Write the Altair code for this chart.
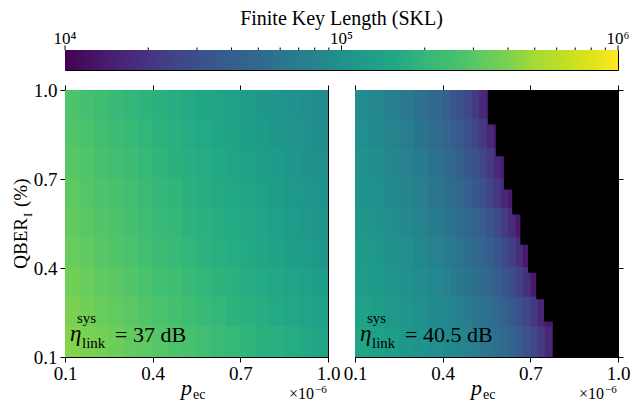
import altair as alt
import pandas as pd

FONT = "Liberation Serif"

# ---------------- data ----------------
# cell edges (pec in units of 1e-6, QBER_I in %)
qber_edges = [1.0, 0.9, 0.8, 0.7, 0.6, 0.5, 0.4, 0.3, 0.2, 0.1]
pec_edges_37 = [0.1, 0.15, 0.2, 0.25, 0.3, 0.35, 0.4, 0.45, 0.5, 0.55,
                0.6, 0.65, 0.7, 0.75, 0.8, 0.85, 0.9, 0.95, 1.0]
pec_edges_405 = [0.1, 0.15, 0.2, 0.25, 0.3, 0.35, 0.4, 0.425, 0.45, 0.475, 0.5,
                 0.525, 0.55, 0.575, 0.6, 0.625, 0.65, 0.675, 0.7, 0.725, 0.75,
                 0.775, 0.8]

# log10(SKL), eta = 37 dB (rows top -> bottom)
log_skl_37 = [
    [5.44, 5.41, 5.38, 5.35, 5.32, 5.30, 5.27, 5.24, 5.21, 5.18, 5.16, 5.13, 5.10, 5.07, 5.04, 5.01, 4.99, 4.96],
    [5.46, 5.43, 5.40, 5.37, 5.35, 5.32, 5.29, 5.26, 5.23, 5.21, 5.18, 5.15, 5.12, 5.09, 5.07, 5.04, 5.01, 4.97],
    [5.48, 5.45, 5.42, 5.39, 5.37, 5.34, 5.31, 5.28, 5.25, 5.23, 5.20, 5.17, 5.14, 5.11, 5.09, 5.06, 5.03, 4.99],
    [5.50, 5.47, 5.44, 5.42, 5.39, 5.36, 5.33, 5.31, 5.28, 5.25, 5.22, 5.19, 5.17, 5.14, 5.11, 5.08, 5.06, 5.02],
    [5.52, 5.49, 5.46, 5.44, 5.41, 5.38, 5.35, 5.33, 5.30, 5.27, 5.24, 5.21, 5.19, 5.16, 5.13, 5.10, 5.08, 5.04],
    [5.54, 5.51, 5.48, 5.46, 5.43, 5.40, 5.37, 5.35, 5.32, 5.29, 5.26, 5.23, 5.21, 5.18, 5.15, 5.12, 5.10, 5.06],
    [5.57, 5.54, 5.51, 5.49, 5.46, 5.43, 5.40, 5.38, 5.35, 5.32, 5.30, 5.27, 5.24, 5.21, 5.19, 5.16, 5.13, 5.10],
    [5.60, 5.57, 5.54, 5.52, 5.49, 5.46, 5.43, 5.41, 5.38, 5.35, 5.33, 5.30, 5.27, 5.24, 5.22, 5.19, 5.16, 5.13],
    [5.63, 5.60, 5.58, 5.55, 5.52, 5.50, 5.47, 5.44, 5.42, 5.39, 5.36, 5.34, 5.31, 5.28, 5.26, 5.23, 5.20, 5.17],
]

N = None
# log10(SKL), eta = 40.5 dB (None = no key; black)
log_skl_405 = [
    [4.96, 4.91, 4.86, 4.81, 4.74, 4.67, 4.60, 4.54, 4.48, 4.42, 4.33, 4.23, 4.13, N, N, N, N, N, N, N, N, N],
    [4.98, 4.94, 4.89, 4.84, 4.77, 4.70, 4.64, 4.59, 4.54, 4.48, 4.41, 4.33, 4.22, 4.12, N, N, N, N, N, N, N, N],
    [5.01, 4.97, 4.92, 4.87, 4.82, 4.75, 4.69, 4.65, 4.60, 4.55, 4.49, 4.42, 4.33, 4.23, 4.12, N, N, N, N, N, N, N],
    [5.03, 4.99, 4.95, 4.90, 4.85, 4.78, 4.73, 4.69, 4.65, 4.60, 4.55, 4.48, 4.41, 4.32, 4.21, 4.12, N, N, N, N, N, N],
    [5.06, 5.03, 4.98, 4.94, 4.89, 4.83, 4.78, 4.75, 4.71, 4.67, 4.62, 4.57, 4.51, 4.44, 4.35, 4.25, 4.13, N, N, N, N, N],
    [5.09, 5.06, 5.02, 4.98, 4.93, 4.87, 4.83, 4.80, 4.76, 4.72, 4.68, 4.63, 4.58, 4.52, 4.45, 4.37, 4.26, 4.13, N, N, N, N],
    [5.11, 5.08, 5.04, 5.00, 4.96, 4.91, 4.87, 4.83, 4.80, 4.77, 4.73, 4.69, 4.64, 4.59, 4.53, 4.46, 4.38, 4.28, 4.13, N, N, N],
    [5.15, 5.11, 5.08, 5.04, 5.00, 4.95, 4.91, 4.88, 4.85, 4.82, 4.79, 4.75, 4.71, 4.67, 4.62, 4.56, 4.49, 4.42, 4.32, 4.20, 4.12, 4.12],
    [5.18, 5.14, 5.11, 5.07, 5.03, 4.99, 4.95, 4.93, 4.90, 4.87, 4.84, 4.80, 4.77, 4.73, 4.68, 4.63, 4.57, 4.51, 4.43, 4.34, 4.22, 4.12],
]

# stepped edge of the zero-key (black) region, eta = 40.5 dB
edge_q_hi = [1.0, 0.884, 0.777, 0.665, 0.580, 0.478, 0.384, 0.295, 0.220]
edge_q_lo = [0.884, 0.777, 0.665, 0.580, 0.478, 0.384, 0.295, 0.220, 0.1]
edge_pec = [0.555, 0.582, 0.610, 0.638, 0.666, 0.692, 0.720, 0.747, 0.777]
pec_max = 1.0

axis_ticks = [0.1, 0.4, 0.7, 1.0]
cbar_range = [1e4, 1e6]
cbar_major = [1e4, 1e5, 1e6]
cbar_labels = ["10⁴", "10⁵", "10⁶"]
cbar_minor = [2e4, 3e4, 4e4, 5e4, 6e4, 7e4, 8e4, 9e4,
              2e5, 3e5, 4e5, 5e5, 6e5, 7e5, 8e5, 9e5]
cbar_title = "Finite Key Length (SKL)"
panel_labels = ["37 dB", "40.5 dB"]

viridis = ["#440154", "#471365", "#482475", "#463480", "#414487", "#3b528b",
           "#355f8d", "#31688e", "#2a788e", "#26828e", "#21918c", "#1f9e89",
           "#22a884", "#35b779", "#44bf70", "#5ec962", "#7ad151", "#a5db36",
           "#bddf26", "#dfe318", "#fde725"]

# ---------------- helpers ----------------
W = 263
H = 267
CBW = 2 * W + 27
xs = alt.Scale(domain=[0.1, 1.0], nice=False, zero=False)
ys = alt.Scale(domain=[0.1, 1.0], nice=False, zero=False)
cs = alt.Scale(type="log", domain=cbar_range, scheme="viridis", clamp=True)
OV = 0.003  # small overlap so neighbouring cells leave no hairline seams


def cells(table, pec_edges):
    rows = []
    for qi in range(len(qber_edges) - 1):
        for pj in range(len(pec_edges) - 1):
            v = table[qi][pj]
            if v is None:
                continue
            rows.append({"x0": pec_edges[pj], "x1": pec_edges[pj + 1] + OV,
                         "y0": qber_edges[qi + 1], "y1": qber_edges[qi] + OV,
                         "skl": 10 ** v})
    return pd.DataFrame(rows)


one = pd.DataFrame({"a": [0]})


def txt(s, x, y, size, style="normal", align="left", angle=0, baseline="alphabetic"):
    return alt.Chart(one).mark_text(
        text=s, font=FONT, fontSize=size, fontStyle=style, align=align,
        baseline=baseline, angle=angle, color="black"
    ).encode(x=alt.value(x), y=alt.value(y))


def panel(table, pec_edges, label, first):
    df = cells(table, pec_edges)
    if first:
        yax = alt.Axis(orient="left", values=axis_ticks, format=".1f", title=None,
                       labelFlush=False, labelOverlap=False, labelPadding=3)
    else:
        yax = alt.Axis(orient="right", values=axis_ticks, labels=False, title=None)
    heat = alt.Chart(df).mark_rect(strokeWidth=0, clip=True).encode(
        x=alt.X("x0:Q", scale=xs,
                axis=alt.Axis(orient="bottom", values=axis_ticks, format=".1f",
                              title=None, labelFlush=False, labelOverlap=False,
                              labelPadding=2)),
        x2="x1:Q",
        y=alt.Y("y0:Q", scale=ys, axis=yax),
        y2="y1:Q",
        color=alt.Color("skl:Q", scale=cs, legend=None),
    )
    top = alt.Chart(df).mark_rect(opacity=0, clip=True).encode(
        x=alt.X("x0:Q", scale=xs,
                axis=alt.Axis(orient="top", values=axis_ticks, labels=False, title=None)),
        x2="x1:Q",
        y=alt.Y("y0:Q", scale=ys, axis=None),
        y2="y1:Q",
    )
    layers = [heat, top]
    if not first:
        edge = pd.DataFrame({"q_lo": edge_q_lo, "q_hi": [q + OV for q in edge_q_hi],
                             "p_lo": edge_pec, "p_hi": [pec_max] * len(edge_pec)})
        black = alt.Chart(edge).mark_rect(color="black", strokeWidth=0, clip=True).encode(
            x=alt.X("p_lo:Q", scale=xs, axis=None), x2="p_hi:Q",
            y=alt.Y("q_lo:Q", scale=ys, axis=None), y2="q_hi:Q")
        layers.append(black)
    layers += [
        txt("η", 5, 251, 23, style="italic"),
        txt("sys", 12, 233, 15),
        txt("link", 17, 258, 15),
        txt("= " + label, 50, 252, 22),
        txt("p", 116, 305, 22, style="italic"),
        txt("ec", 128, 309, 14),
        txt("×10", W - 14, 309, 16, align="right"),
        txt("−6", W - 13, 303, 11, align="left"),
    ]
    if first:
        layers += [
            txt("QBER", -38, 128, 19, align="right", angle=270),
            txt("I", -33, 127, 13, align="left", angle=270),
            txt("(%)", -38, 117, 19, align="left", angle=270),
        ]
    props = dict(width=W, height=H)
    if not first:
        props["view"] = alt.ViewBackground(fill="black", stroke="black", strokeWidth=1)
    return alt.layer(*layers).resolve_axis(x="independent", y="independent").properties(**props)


left = panel(log_skl_37, pec_edges_37, panel_labels[0], True)
right = panel(log_skl_405, pec_edges_405, panel_labels[1], False)

# ---------------- colorbar ----------------
cbs = alt.Scale(type="log", domain=cbar_range, nice=False)
grad = alt.LinearGradient(
    gradient="linear", x1=0, x2=1, y1=0, y2=0,
    stops=[alt.GradientStop(color=c, offset=i / (len(viridis) - 1)) for i, c in enumerate(viridis)],
)
cb_bar = alt.Chart(pd.DataFrame({"lo": [cbar_range[0]], "hi": [cbar_range[1]]})).mark_rect(
    fill=grad).encode(
    x=alt.X("lo:Q", scale=cbs, axis=None),
    x2="hi:Q",
    y=alt.value(0), y2=alt.value(20),
)
cb_minor = alt.Chart(pd.DataFrame({"v": cbar_minor})).mark_rule(color="black", strokeWidth=1).encode(
    x=alt.X("v:Q", scale=cbs, axis=None), y=alt.value(-2.5), y2=alt.value(0))
cb_major = alt.Chart(pd.DataFrame({"v": cbar_major})).mark_rule(color="black", strokeWidth=1).encode(
    x=alt.X("v:Q", scale=cbs, axis=None), y=alt.value(-4.5), y2=alt.value(0))
cb_lab = alt.Chart(pd.DataFrame({"v": cbar_major, "lab": cbar_labels})).mark_text(
    font=FONT, fontSize=17, align="center", baseline="alphabetic", color="black").encode(
    x=alt.X("v:Q", scale=cbs, axis=None), y=alt.value(-6), text="lab:N")
cb_title = txt(cbar_title, CBW / 2, -25, 20, align="center")
cbar = alt.layer(cb_bar, cb_minor, cb_major, cb_lab, cb_title).properties(width=CBW, height=20)

panels = alt.hconcat(left, right, spacing=27, bounds="flush")
chart = alt.vconcat(cbar, panels, spacing=20, bounds="flush").properties(
    padding={"left": 3, "top": 0, "right": 0, "bottom": 0}
).configure(font=FONT).configure_view(
    stroke="black", strokeWidth=1
).configure_axis(
    labelFont=FONT, titleFont=FONT, labelFontSize=19, labelColor="black",
    tickColor="black", tickSize=5, tickWidth=1, domainColor="black", domainWidth=1,
    grid=False,
)

chart.save("out.html", embed_options={"renderer": "svg", "actions": False})
